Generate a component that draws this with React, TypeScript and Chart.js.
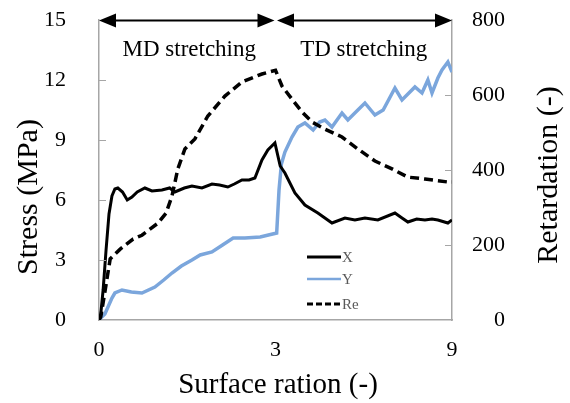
import React, { useEffect, useRef } from "react";
import { Chart, registerables } from "chart.js";

Chart.register(...registerables);

// ---- data (x position: 0..3 = MD stretching, 3..6 = TD stretching, shown as 0 / 3 / 9) ----
const X_TICK_POS = [0, 3, 6];
const X_TICK_LABELS = ["0", "3", "9"];
const Y_TICKS = [0, 3, 6, 9, 12, 15];
const Y2_TICKS = [0, 200, 400, 600, 800];

const X_POS = [0, 0.03, 0.07, 0.12, 0.17, 0.22, 0.27, 0.32, 0.4, 0.48, 0.56, 0.65, 0.78, 0.9, 1.07, 1.2, 1.29, 1.45, 1.58, 1.75, 1.92, 2.05, 2.19, 2.3, 2.43, 2.55, 2.65, 2.77, 2.87, 2.99, 3.08, 3.16, 3.33, 3.5, 3.72, 3.96, 4.18, 4.35, 4.52, 4.74, 5.03, 5.15, 5.25, 5.4, 5.54, 5.66, 5.76, 5.93, 6.0];
const X_STRESS = [0, 0.3, 1.5, 3.5, 5.3, 6.2, 6.55, 6.6, 6.4, 6.0, 6.15, 6.4, 6.6, 6.45, 6.5, 6.6, 6.4, 6.6, 6.7, 6.6, 6.8, 6.75, 6.65, 6.8, 7.0, 7.0, 7.1, 8.0, 8.5, 8.85, 7.7, 7.35, 6.35, 5.75, 5.35, 4.85, 5.1, 5.0, 5.1, 5.0, 5.35, 5.1, 4.9, 5.05, 5.0, 5.05, 5.0, 4.85, 5.0];

const Y_POS = [0, 0.03, 0.1, 0.22, 0.27, 0.39, 0.55, 0.73, 0.95, 1.1, 1.24, 1.4, 1.58, 1.72, 1.92, 2.1, 2.28, 2.48, 2.74, 3.02, 3.06, 3.1, 3.16, 3.28, 3.38, 3.5, 3.64, 3.75, 3.84, 3.96, 4.13, 4.23, 4.4, 4.52, 4.69, 4.83, 5.03, 5.15, 5.37, 5.49, 5.59, 5.66, 5.76, 5.83, 5.93, 6.0];
const Y_STRESS = [0, 0.1, 0.3, 1.1, 1.35, 1.5, 1.4, 1.35, 1.65, 2.0, 2.35, 2.7, 3.0, 3.25, 3.4, 3.75, 4.1, 4.1, 4.15, 4.35, 6.5, 7.8, 8.4, 9.15, 9.65, 9.85, 9.5, 9.9, 10.0, 9.65, 10.35, 10.0, 10.5, 10.85, 10.25, 10.5, 11.6, 11.0, 11.65, 11.35, 12.0, 11.35, 12.1, 12.5, 12.9, 12.4];

const RE_POS = [0, 0.03, 0.1, 0.19, 0.36, 0.58, 0.73, 1.0, 1.14, 1.24, 1.34, 1.46, 1.63, 1.85, 2.14, 2.43, 2.77, 3.0, 3.11, 3.28, 3.45, 3.62, 3.84, 4.13, 4.4, 4.69, 4.98, 5.25, 5.54, 5.93, 6.0];
const RE_VAL = [0, 8, 75, 163, 189, 216, 226, 258, 285, 330, 403, 456, 483, 544, 597, 635, 656, 666, 624, 589, 555, 528, 509, 488, 456, 424, 403, 381, 376, 368, 368];

const SERIES_LABELS = ["X", "Y", "Re"];
const PHASE_LABELS = ["MD stretching", "TD stretching"];
const TITLE_Y = "Stress (MPa)";
const TITLE_Y2 = "Retardation (-)";
const TITLE_X = "Surface ration (-)";

const SERIF = "'Liberation Serif', 'Times New Roman', serif";
const BLUE = "#7ba6dc";
const AXIS_GRAY = "#a6a6a6";

const zip = (xs: number[], ys: number[]) => xs.map((x, i) => ({ x, y: ys[i] }));

const noPad = (s: any) => {
  s.paddingTop = 0;
  s.paddingBottom = 0;
  s.paddingLeft = 0;
  s.paddingRight = 0;
};

const decorPlugin = {
  id: "decor",
  afterDraw(chart: any) {
    const ctx = chart.ctx as CanvasRenderingContext2D;
    const { left, right, top } = chart.chartArea;
    const xs = chart.scales.x;
    const ys = chart.scales.y;
    const y2 = chart.scales.y2;
    ctx.save();

    // inner tick marks
    ctx.strokeStyle = AXIS_GRAY;
    ctx.lineWidth = 1;
    Y_TICKS.slice(1, -1).forEach((v) => {
      const py = Math.round(ys.getPixelForValue(v)) + 0.5;
      ctx.beginPath();
      ctx.moveTo(left, py);
      ctx.lineTo(left + 7, py);
      ctx.stroke();
    });
    Y2_TICKS.slice(1, -1).forEach((v) => {
      const py = Math.round(y2.getPixelForValue(v)) + 0.5;
      ctx.beginPath();
      ctx.moveTo(right - 7, py);
      ctx.lineTo(right, py);
      ctx.stroke();
    });

    // double arrows on top
    const mid = xs.getPixelForValue(3);
    const ay = top + 0.5;
    const head = (tipX: number, dir: number) => {
      ctx.beginPath();
      ctx.moveTo(tipX, ay);
      ctx.lineTo(tipX + dir * 17, ay - 7);
      ctx.lineTo(tipX + dir * 17, ay + 7);
      ctx.closePath();
      ctx.fill();
    };
    ctx.strokeStyle = "#000";
    ctx.fillStyle = "#000";
    ctx.lineWidth = 2;
    ctx.beginPath();
    ctx.moveTo(left + 5, ay);
    ctx.lineTo(mid - 5, ay);
    ctx.moveTo(mid + 5, ay);
    ctx.lineTo(right - 5, ay);
    ctx.stroke();
    head(left, 1);
    head(mid - 1, -1);
    head(mid + 1.5, 1);
    head(right, -1);

    ctx.font = `23px ${SERIF}`;
    ctx.textAlign = "center";
    ctx.textBaseline = "middle";
    ctx.fillText(PHASE_LABELS[0], (left + mid) / 2 + 2, top + 30);
    ctx.fillText(PHASE_LABELS[1], (mid + right) / 2, top + 30);

    // axis titles
    ctx.font = `30px ${SERIF}`;
    ctx.save();
    ctx.translate(29, 197);
    ctx.rotate(-Math.PI / 2);
    ctx.fillText(TITLE_Y, 0, 0);
    ctx.restore();
    ctx.save();
    ctx.translate(549, 175);
    ctx.rotate(-Math.PI / 2);
    ctx.fillText(TITLE_Y2, 0, 0);
    ctx.restore();
    ctx.font = `29px ${SERIF}`;
    ctx.fillText(TITLE_X, 278, 385);

    // legend inside the plot
    const rows = [257, 279, 304];
    chart.data.datasets.forEach((ds: any, i: number) => {
      ctx.save();
      ctx.strokeStyle = ds.borderColor;
      ctx.lineWidth = i === 1 ? 2.5 : 3;
      ctx.setLineDash(ds.borderDash && ds.borderDash.length ? [6, 3] : []);
      ctx.beginPath();
      ctx.moveTo(307, rows[i]);
      ctx.lineTo(341, rows[i]);
      ctx.stroke();
      ctx.restore();
      ctx.fillStyle = "#595959";
      ctx.font = `15px ${SERIF}`;
      ctx.textAlign = "left";
      ctx.fillText(ds.label, 342, rows[i] + 1);
    });
    ctx.restore();
  },
};

export default function App() {
  const ref = useRef<HTMLCanvasElement>(null);
  useEffect(() => {
    document.body.style.margin = "0";
    const tickFont = { family: SERIF, size: 22 };
    const chart = new Chart(ref.current as HTMLCanvasElement, {
      type: "line",
      data: {
        datasets: [
          {
            label: SERIES_LABELS[0],
            data: zip(X_POS, X_STRESS),
            borderColor: "#000000",
            borderWidth: 3,
            pointRadius: 0,
            tension: 0,
            yAxisID: "y",
            order: 1,
          },
          {
            label: SERIES_LABELS[1],
            data: zip(Y_POS, Y_STRESS),
            borderColor: BLUE,
            borderWidth: 3.5,
            pointRadius: 0,
            tension: 0,
            yAxisID: "y",
            order: 3,
          },
          {
            label: SERIES_LABELS[2],
            data: zip(RE_POS, RE_VAL),
            borderColor: "#000000",
            borderWidth: 3.5,
            borderDash: [9, 5],
            pointRadius: 0,
            tension: 0,
            yAxisID: "y2",
            order: 2,
          },
        ],
      },
      options: {
        animation: false,
        responsive: false,
        devicePixelRatio: 1,
        layout: { padding: { top: 20, left: 0, right: 65, bottom: 0 } },
        plugins: { legend: { display: false }, tooltip: { enabled: false } },
        scales: {
          x: {
            type: "linear",
            min: 0,
            max: 6,
            afterBuildTicks: (s: any) => {
              s.ticks = X_TICK_POS.map((v) => ({ value: v }));
            },
            afterFit: (s: any) => {
              s.height = 83;
              noPad(s);
            },
            ticks: {
              font: tickFont,
              color: "#000",
              padding: 9,
              maxRotation: 0,
              autoSkip: false,
              callback: (v: any) => X_TICK_LABELS[X_TICK_POS.indexOf(Number(v))],
            },
            grid: { display: false },
            border: { display: true, color: AXIS_GRAY, width: 1.5 },
          },
          y: {
            position: "left",
            min: 0,
            max: 15,
            afterBuildTicks: (s: any) => {
              s.ticks = Y_TICKS.map((v) => ({ value: v }));
            },
            afterFit: (s: any) => {
              s.width = 99;
              noPad(s);
            },
            ticks: { font: tickFont, color: "#000", padding: 25 },
            grid: { display: false },
            border: { display: true, color: AXIS_GRAY, width: 1.5 },
          },
          y2: {
            position: "right",
            min: 0,
            max: 800,
            afterBuildTicks: (s: any) => {
              s.ticks = Y2_TICKS.map((v) => ({ value: v }));
            },
            afterFit: (s: any) => {
              s.width = 53;
              noPad(s);
            },
            ticks: { font: tickFont, color: "#000", padding: 19, crossAlign: "far" },
            grid: { display: false },
            border: { display: true, color: AXIS_GRAY, width: 1.5 },
          },
        },
      } as any,
      plugins: [decorPlugin],
    });
    return () => chart.destroy();
  }, []);
  return (
    <canvas
      ref={ref}
      width={570}
      height={403}
      style={{ display: "block", width: 570, height: 403 }}
    />
  );
}
